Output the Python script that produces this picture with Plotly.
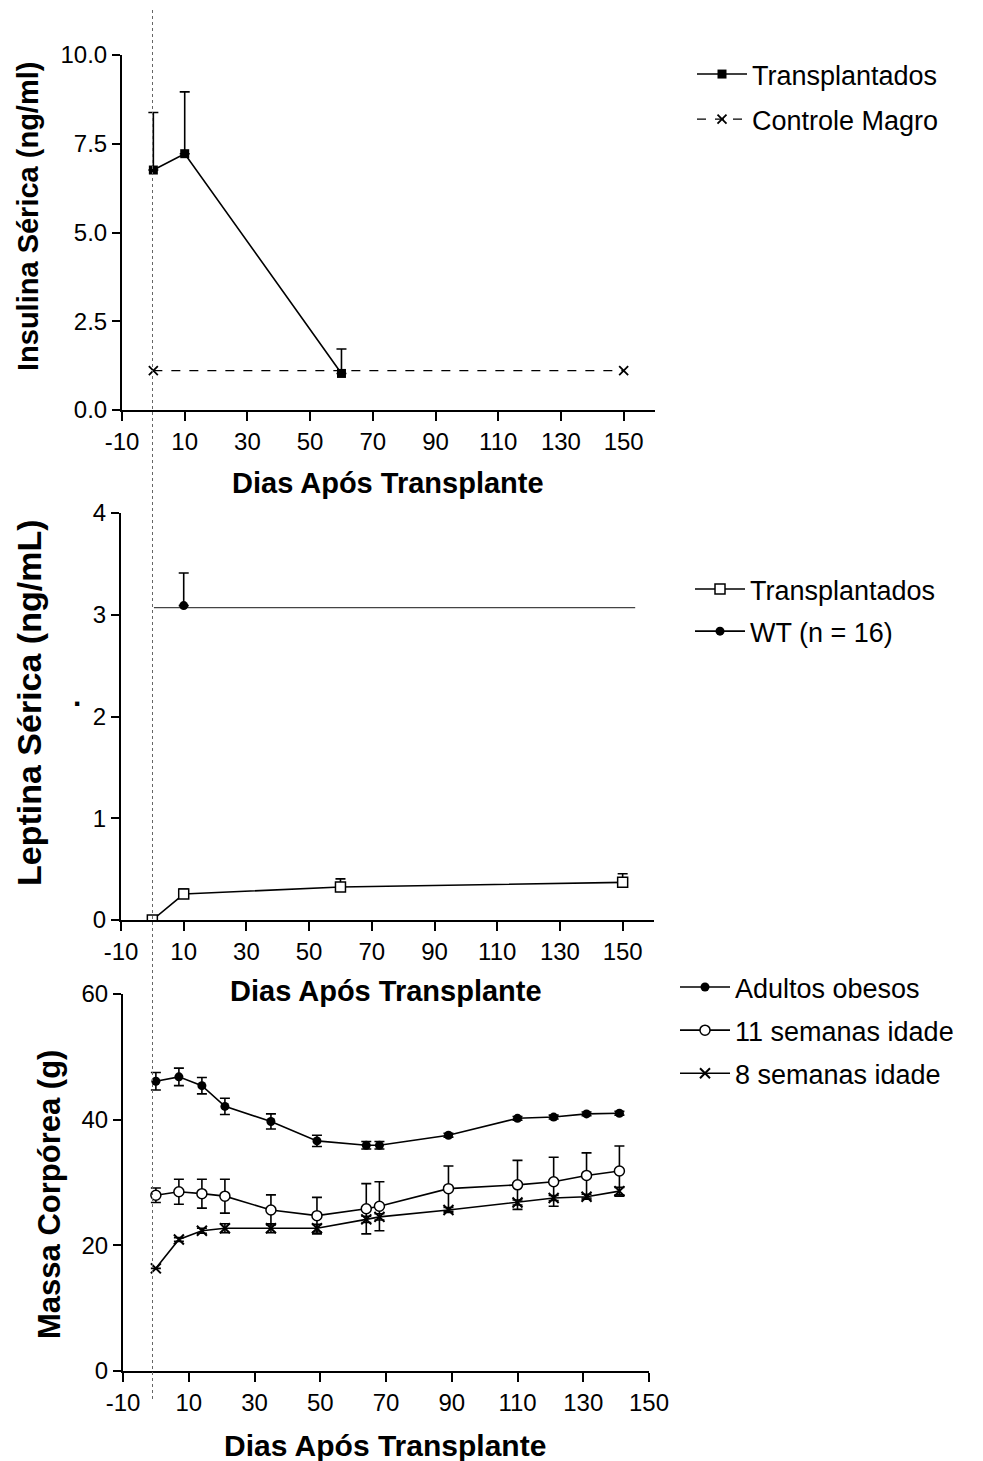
import plotly.graph_objects as go

W, H = 983, 1461

# ---------------- data ----------------
# Panel 1: serum insulin
ins_days_tx = [0, 10, 60]
ins_tx = [6.76, 7.22, 1.03]
ins_tx_err = [1.62, 1.74, 0.69]
ins_days_ctrl = [0, 150]
ins_ctrl = [1.11, 1.11]

# Panel 2: serum leptin
lep_days_tx = [0, 10, 60, 150]
lep_tx = [0.0, 0.255, 0.324, 0.37]
lep_tx_err = [0.0, 0.05, 0.08, 0.085]
lep_days_wt = [10]
lep_wt = [3.09]
lep_wt_err = [0.32]
lep_wt_ref_days = [0.5, 154]
lep_wt_ref = [3.07, 3.07]

# Panel 3: body mass
mass_days = [0, 7, 14, 21, 35, 49, 64, 68, 89, 110, 121, 131, 141]
mass_obese = [46.1, 46.8, 45.4, 42.1, 39.7, 36.6, 35.9, 35.9, 37.5, 40.2, 40.4, 40.9, 41.0]
mass_obese_err = [1.4, 1.4, 1.3, 1.3, 1.2, 0.9, 0.6, 0.6, 0.3, 0.3, 0.3, 0.3, 0.3]
mass_11w = [27.95, 28.5, 28.2, 27.8, 25.6, 24.7, 25.8, 26.2, 29.0, 29.6, 30.1, 31.1, 31.8]
mass_11w_err = [1.15, 2.0, 2.3, 2.7, 2.4, 2.9, 4.0, 3.9, 3.6, 3.9, 3.9, 3.6, 4.0]
mass_8w = [16.3, 20.9, 22.3, 22.7, 22.7, 22.7, 24.1, 24.5, 25.6, 26.8, 27.5, 27.7, 28.6]
mass_8w_err = [0.0, 0.3, 0.4, 0.7, 0.7, 0.6, 0.5, 0.5, 0.4, 0.4, 0.4, 0.4, 0.6]

x_ticks = [-10, 10, 30, 50, 70, 90, 110, 130, 150]
x_ticklabels = ["-10", "10", "30", "50", "70", "90", "110", "130", "150"]
ins_ticks = [0, 2.5, 5, 7.5, 10]
ins_ticklabels = ["0.0", "2.5", "5.0", "7.5", "10.0"]
lep_ticks = [0, 1, 2, 3, 4]
mass_ticks = [0, 20, 40, 60]

# ---------------- helpers ----------------
def px_x(p):
    return p / W

def px_y(p):
    return 1 - p / H

FONT = "Liberation Sans, Arial, sans-serif"
LW = 1.6
fig = go.Figure()

def err(arr, up_only=False):
    d = dict(type="data", array=arr, color="black", thickness=1.6, width=5, visible=True)
    if up_only:
        d.update(symmetric=False, arrayminus=[0] * len(arr))
    return d

# Panel 1
fig.add_trace(go.Scatter(
    x=ins_days_tx, y=ins_tx, mode="lines+markers", name="Transplantados",
    line=dict(color="black", width=LW),
    marker=dict(symbol="square", size=9, color="black"),
    error_y=err(ins_tx_err, up_only=True),
    xaxis="x", yaxis="y", legend="legend", legendgroup="a"))
fig.add_trace(go.Scatter(
    x=ins_days_ctrl, y=ins_ctrl, mode="lines+markers", name="Controle Magro",
    line=dict(color="black", width=1.3, dash="dash"),
    marker=dict(symbol="x-thin-open", size=9, line=dict(color="black", width=1.8)),
    xaxis="x", yaxis="y", legend="legend", legendgroup="b"))

# Panel 2
fig.add_trace(go.Scatter(
    x=lep_days_tx, y=lep_tx, mode="lines+markers", name="Transplantados",
    line=dict(color="black", width=LW),
    marker=dict(symbol="square", size=10, color="white", line=dict(color="black", width=1.5)),
    error_y=err(lep_tx_err, up_only=True),
    xaxis="x2", yaxis="y2", legend="legend2", legendgroup="c"))
fig.add_trace(go.Scatter(
    x=lep_wt_ref_days, y=lep_wt_ref, mode="lines", showlegend=False,
    line=dict(color="#444", width=1.3),
    xaxis="x2", yaxis="y2", legend="legend2", hoverinfo="skip"))
fig.add_trace(go.Scatter(
    x=lep_days_wt, y=lep_wt, mode="lines+markers", name="WT (n = 16)",
    line=dict(color="black", width=LW),
    marker=dict(symbol="circle", size=9, color="black"),
    error_y=err(lep_wt_err, up_only=True),
    xaxis="x2", yaxis="y2", legend="legend2", legendgroup="d"))

# Panel 3
fig.add_trace(go.Scatter(
    x=mass_days, y=mass_obese, mode="lines+markers", name="Adultos obesos",
    line=dict(color="black", width=LW),
    marker=dict(symbol="circle", size=9, color="black"),
    error_y=err(mass_obese_err),
    xaxis="x3", yaxis="y3", legend="legend3", legendgroup="e"))
fig.add_trace(go.Scatter(
    x=mass_days, y=mass_11w, mode="lines+markers", name="11 semanas idade",
    line=dict(color="black", width=LW),
    marker=dict(symbol="circle", size=10, color="white", line=dict(color="black", width=1.5)),
    error_y=err(mass_11w_err),
    xaxis="x3", yaxis="y3", legend="legend3", legendgroup="f"))
fig.add_trace(go.Scatter(
    x=mass_days, y=mass_8w, mode="lines+markers", name="8 semanas idade",
    line=dict(color="black", width=LW),
    marker=dict(symbol="x-thin-open", size=10, line=dict(color="black", width=2)),
    error_y=err(mass_8w_err),
    xaxis="x3", yaxis="y3", legend="legend3", legendgroup="g"))

axis_common = dict(
    showline=True, linecolor="black", linewidth=2, ticks="outside", ticklen=8,
    tickwidth=2, tickcolor="black", showgrid=False, zeroline=False, automargin=False,
    tickfont=dict(family=FONT, size=24, color="black"),
)

def xax(dom, rng, anchor):
    d = dict(axis_common)
    d.update(domain=dom, range=rng, tickvals=x_ticks, ticktext=x_ticklabels,
             anchor=anchor, ticklen=9)
    return d

def yax(dom, rng, anchor, tickvals, ticktext=None):
    d = dict(axis_common)
    d.update(domain=dom, range=rng, tickvals=tickvals, anchor=anchor)
    if ticktext:
        d.update(ticktext=ticktext)
    return d

legend_common = dict(
    font=dict(family=FONT, size=27, color="black"),
    bgcolor="rgba(0,0,0,0)", borderwidth=0, itemwidth=50,
    xanchor="left", yanchor="top", traceorder="grouped",
)

fig.update_layout(
    template="none",
    width=W, height=H, margin=dict(l=0, r=0, t=0, b=0, autoexpand=False),
    paper_bgcolor="white", plot_bgcolor="white", showlegend=True,
    xaxis=xax([px_x(122), px_x(655)], [-10, 160], "y"),
    yaxis=yax([px_y(410), px_y(55)], [0, 10], "x", ins_ticks, ins_ticklabels),
    xaxis2=xax([px_x(121), px_x(654)], [-10, 160], "y2"),
    yaxis2=yax([px_y(920), px_y(513)], [0, 4], "x2", lep_ticks),
    xaxis3=xax([px_x(123), px_x(649)], [-10, 150], "y3"),
    yaxis3=yax([px_y(1370.7), px_y(994)], [0, 60], "x3", mass_ticks),
    legend=dict(legend_common, x=px_x(692), y=px_y(50), tracegroupgap=7),
    legend2=dict(legend_common, x=px_x(690), y=px_y(565), tracegroupgap=4),
    legend3=dict(legend_common, x=px_x(675), y=px_y(963), tracegroupgap=5),
)

# dotted vertical reference line across all panels
fig.add_shape(type="line", xref="paper", yref="paper",
              x0=px_x(152.5), x1=px_x(152.5), y0=px_y(10), y1=px_y(1400),
              line=dict(color="#666", width=1, dash="dot"))

def title(text, x, y, size, angle=0):
    fig.add_annotation(text=f"<b>{text}</b>", xref="paper", yref="paper",
                       x=px_x(x), y=px_y(y), xanchor="center", yanchor="middle",
                       showarrow=False, textangle=angle,
                       font=dict(family=FONT, size=size, color="black"))

title("Dias Após Transplante", 388, 483, 29)
title("Dias Após Transplante", 386, 991, 29)
title("Dias Após Transplante", 385, 1445, 30)
title("Insulina Sérica (ng/ml)", 28, 217, 29, -90)
title("Leptina Sérica (ng/mL)", 29, 703, 34, -90)
title("Massa Corpórea (g)", 49, 1195, 31, -90)
title(".", 77, 695, 30)

fig.write_html("out.html")
